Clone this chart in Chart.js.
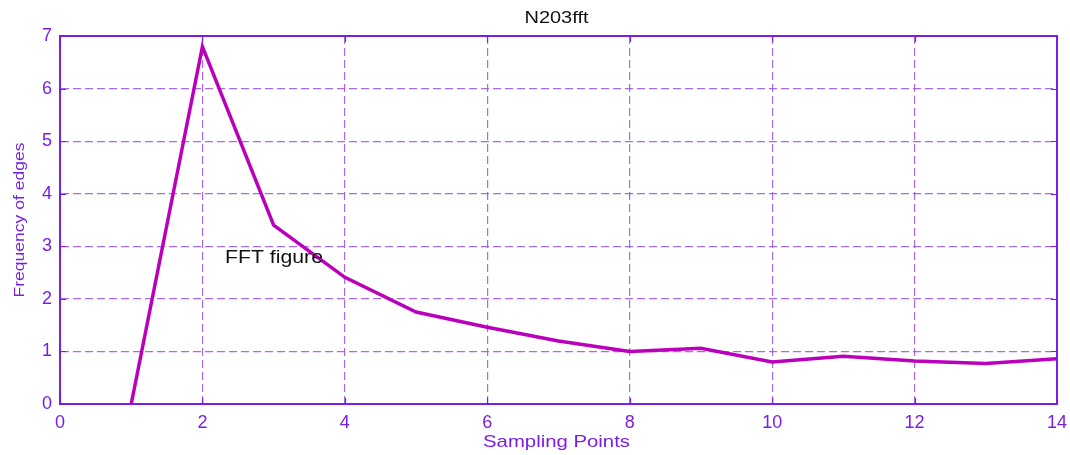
<!DOCTYPE html>
<html>
<head>
<meta charset="utf-8">
<script src="https://cdn.jsdelivr.net/npm/chart.js@4"></script>
<style>
  html, body { margin: 0; padding: 0; background: #ffffff; }
  #wrap { width: 1070px; height: 455px; position: relative; }
</style>
</head>
<body>
<div id="wrap"><canvas id="c" width="1070" height="455"></canvas></div>
<script>
// Sampling points and the measured edge frequency at each one
const samplingPoints = [1, 2, 3, 4, 5, 6, 7, 8, 9, 10, 11, 12, 13, 14];
const edgeFrequency = [0, 6.8, 3.4, 2.41, 1.75, 1.46, 1.2, 1.0, 1.06, 0.8, 0.91, 0.82, 0.77, 0.86];
const xTicks = [0, 2, 4, 6, 8, 10, 12, 14];
const yTicks = [0, 1, 2, 3, 4, 5, 6, 7];
const chartTitle = 'N203fft';
const xTitle = 'Sampling Points';
const yTitle = 'Frequency of edges';
const note = { text: 'FFT figure', x: 2.317, y: 2.68 };

const axisColor = '#7a1ee6';
const gridColor = 'rgba(150, 80, 238, 0.85)';
const lineColor = '#bb00bb';
const fontFamily = '"Liberation Sans", Arial, sans-serif';

const points = samplingPoints.map((x, i) => ({ x: x, y: edgeFrequency[i] }));

// Draws text whose run is stretched to a given length
function stretchedText(ctx, text, size, length, color, x, y, angle, align) {
  ctx.save();
  ctx.font = size + 'px ' + fontFamily;
  ctx.fillStyle = color;
  ctx.textBaseline = 'alphabetic';
  ctx.textAlign = align;
  const k = length / ctx.measureText(text).width;
  ctx.translate(x, y);
  ctx.rotate(angle);
  ctx.scale(k, 1);
  ctx.fillText(text, 0, 0);
  ctx.restore();
}

// Frame, inward tick marks, titles and the text note
const framePlugin = {
  id: 'frame',
  afterDatasetsDraw(chart) {
    const { ctx, chartArea: a, scales } = chart;
    ctx.save();
    ctx.strokeStyle = axisColor;
    ctx.lineWidth = 2;
    ctx.strokeRect(a.left, a.top, a.right - a.left, a.bottom - a.top);
    ctx.lineWidth = 1.2;
    xTicks.forEach(v => {
      const px = Math.round(scales.x.getPixelForValue(v)) + 0.5;
      ctx.beginPath();
      ctx.moveTo(px, a.bottom); ctx.lineTo(px, a.bottom - 6);
      ctx.moveTo(px, a.top); ctx.lineTo(px, a.top + 6);
      ctx.stroke();
    });
    yTicks.forEach(v => {
      const py = Math.round(scales.y.getPixelForValue(v)) + 0.5;
      ctx.beginPath();
      ctx.moveTo(a.left, py); ctx.lineTo(a.left + 6, py);
      ctx.moveTo(a.right, py); ctx.lineTo(a.right - 6, py);
      ctx.stroke();
    });
    ctx.restore();

    const cx = (a.left + a.right) / 2;
    stretchedText(ctx, chartTitle, 16, 64, '#111111', cx - 2, 23, 0, 'center');
    stretchedText(ctx, xTitle, 17, 147, axisColor, cx - 2, 447, 0, 'center');
    stretchedText(ctx, yTitle, 14.5, 155, axisColor, 24, (a.top + a.bottom) / 2, -Math.PI / 2, 'center');
    stretchedText(ctx, note.text, 18, 98, '#111111',
      scales.x.getPixelForValue(note.x), scales.y.getPixelForValue(note.y), 0, 'left');
  }
};

new Chart(document.getElementById('c'), {
  type: 'line',
  data: {
    datasets: [{
      data: points,
      borderColor: lineColor,
      borderWidth: 3.5,
      pointRadius: 0,
      tension: 0,
      fill: false
    }]
  },
  options: {
    responsive: false,
    animation: false,
    layout: { padding: { top: 36, right: 0, left: 0, bottom: 0 } },
    plugins: { legend: { display: false }, tooltip: { enabled: false }, title: { display: false } },
    scales: {
      x: {
        type: 'linear', min: 0, max: 14,
        afterBuildTicks: s => { s.ticks = xTicks.map(v => ({ value: v })); },
        afterFit: s => { s.height = 51; s.paddingRight = 13; s.paddingLeft = 0; },
        ticks: { color: axisColor, font: { family: fontFamily, size: 18 }, padding: 8, maxRotation: 0 },
        grid: { color: gridColor, lineWidth: 1.2, drawTicks: false, tickLength: 0 },
        border: { display: true, color: axisColor, width: 2, dash: [8, 4] },
        title: { display: false }
      },
      y: {
        type: 'linear', min: 0, max: 7,
        afterBuildTicks: s => { s.ticks = yTicks.map(v => ({ value: v })); },
        afterFit: s => { s.width = 60; s.paddingTop = 0; s.paddingBottom = 0; },
        ticks: { color: axisColor, font: { family: fontFamily, size: 18 }, padding: 8 },
        grid: { color: gridColor, lineWidth: 1.2, drawTicks: false, tickLength: 0 },
        border: { display: true, color: axisColor, width: 2, dash: [8, 4] },
        title: { display: false }
      }
    }
  },
  plugins: [framePlugin]
});
</script>
</body>
</html>
